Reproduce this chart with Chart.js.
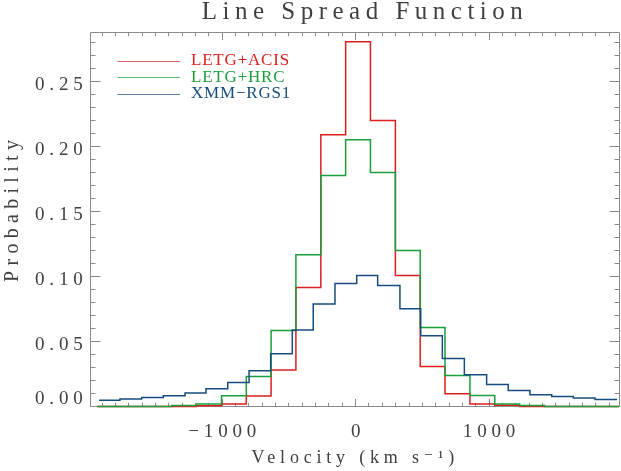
<!DOCTYPE html>
<html>
<head>
<meta charset="utf-8">
<script src="https://cdn.jsdelivr.net/npm/chart.js@4.4.1/dist/chart.umd.min.js"></script>
<style>
  html, body { margin: 0; padding: 0; background: #ffffff; }
  canvas { display: block; }
</style>
</head>
<body>
<canvas id="c" width="621" height="471"></canvas>
<script>
// ---------------- data ----------------
const chartTitle = 'Line Spread Function';
const xTitle = 'Velocity (km s\u207B\u00B9)';
const yTitle = 'Probability';
const seriesNames = ['LETG+ACIS', 'LETG+HRC', 'XMM\u2212RGS1'];
const seriesColors = ['#dc1e1e', '#1a9e3c', '#164c7e'];

// Chandra LETG bins (km/s edges) shared by ACIS and HRC
const letgBinEdges = [-1938, -1752, -1565, -1379, -1193, -1006, -820, -634, -448, -261, -75,
                      111, 298, 484, 670, 857, 1043, 1229, 1416, 1602, 1788, 1975];
const letgAcisValues = [0, 0, 0, 0, 0.0006, 0.002, 0.008, 0.028, 0.0915, 0.209, 0.2805,
                        0.220, 0.1008, 0.0308, 0.0098, 0.002, 0.001, 0, 0, 0, 0];
const letgHrcValues = [0, 0, 0, 0.0008, 0.002, 0.0082, 0.023, 0.0585, 0.1167, 0.1777, 0.2052,
                       0.180, 0.120, 0.0608, 0.0238, 0.0085, 0.002, 0.0008, 0, 0, 0];

// XMM RGS1 bins (km/s edges)
const rgsBinEdges = [-1924, -1767, -1604, -1442, -1279, -1122, -959, -799, -637, -475, -318, -155,
                     8, 165, 332, 488, 650, 815, 982, 1144, 1307, 1470, 1632, 1795, 1960];
const rgsValues = [0.0049, 0.0057, 0.0069, 0.0082, 0.0103, 0.0136, 0.0185, 0.0275, 0.0405, 0.0588,
                   0.0788, 0.0946, 0.1008, 0.0931, 0.0752, 0.0544, 0.0369, 0.0244, 0.0169, 0.0123,
                   0.0090, 0.0077, 0.0065, 0.0054];

const xTickValues = [-1000, 0, 1000];
const yTickValues = [0, 0.05, 0.10, 0.15, 0.20, 0.25];
const xRange = [-1988, 1982];
const yRange = [0, 0.2877];

// ---------------- helpers ----------------
function histogramPoints(edges, values) {
  return edges.map((e, i) => ({ x: e, y: values[Math.min(i, values.length - 1)] }));
}

const SERIF = '"Liberation Serif", "DejaVu Serif", serif';
const TEXT = '#404040';
const FRAME = '#8a8a8a';
const AXIS_SPACING = 4.8;

const decor = {
  id: 'decor',
  beforeDraw(chart) {
    chart.ctx.letterSpacing = AXIS_SPACING + 'px';
  },
  beforeDatasetsDraw(chart) {
    const ctx = chart.ctx;
    const xs = chart.scales.x, ys = chart.scales.y;
    const { left, right, top, bottom } = chart.chartArea;
    const L = Math.floor(left) + 0.5, R = Math.floor(right) - 0.5;
    const T = Math.floor(top) + 0.5, B = Math.floor(bottom) + 0.5;
    ctx.save();
    ctx.strokeStyle = FRAME;
    ctx.lineWidth = 1;
    ctx.beginPath();
    ctx.rect(L, T, R - L, B - T);
    for (let k = -19; k <= 19; k++) {
      const v = k * 100;
      if (v < xs.min || v > xs.max) continue;
      const px = Math.floor(xs.getPixelForValue(v)) + 0.5;
      const len = (k % 10 === 0) ? 7.5 : 3.7;
      ctx.moveTo(px, B); ctx.lineTo(px, B - len);
      ctx.moveTo(px, T); ctx.lineTo(px, T + len);
    }
    for (let k = 0; k <= 28; k++) {
      const v = k / 100;
      if (v > ys.max) continue;
      const py = Math.floor(ys.getPixelForValue(v)) + 0.5;
      const len = (k % 5 === 0) ? 10 : 5;
      ctx.moveTo(L, py); ctx.lineTo(L + len, py);
      ctx.moveTo(R, py); ctx.lineTo(R - len, py);
    }
    ctx.stroke();
    ctx.restore();
  },
  afterDraw(chart) {
    const ctx = chart.ctx;
    const { left, right, top, bottom } = chart.chartArea;
    ctx.save();
    // main title
    ctx.font = '25px ' + SERIF;
    ctx.letterSpacing = '5.5px';
    ctx.fillStyle = TEXT;
    ctx.textAlign = 'left';
    ctx.textBaseline = 'alphabetic';
    let w = ctx.measureText(chartTitle).width - 5.5;
    ctx.fillText(chartTitle, (left + right) / 2 + 7 - w / 2, 18.5);

    // y axis title
    ctx.save();
    ctx.font = '20px ' + SERIF;
    ctx.letterSpacing = '5.3px';
    ctx.translate(12.5, (top + bottom) / 2 - 8.5);
    ctx.rotate(-Math.PI / 2);
    ctx.textBaseline = 'middle';
    w = ctx.measureText(yTitle).width - 5.3;
    ctx.fillText(yTitle, -w / 2, 0);
    ctx.restore();

    // legend
    ctx.font = '17px ' + SERIF;
    ctx.letterSpacing = '0.8px';
    ctx.textBaseline = 'alphabetic';
    chart.data.datasets.forEach((ds, i) => {
      const y = top + 28.5 + i * 16.5;
      const yy = Math.floor(y) + 0.5;
      ctx.strokeStyle = ds.borderColor;
      ctx.globalAlpha = 0.7;
      ctx.lineWidth = 1;
      ctx.beginPath();
      ctx.moveTo(left + 27, yy);
      ctx.lineTo(left + 89.5, yy);
      ctx.stroke();
      ctx.globalAlpha = 1;
      ctx.fillStyle = ds.borderColor;
      ctx.fillText(ds.label, left + 100.5, y + 4);
    });
    ctx.restore();
  }
};

const datasets = [
  { label: seriesNames[0], data: histogramPoints(letgBinEdges, letgAcisValues), borderColor: seriesColors[0], order: 2 },
  { label: seriesNames[1], data: histogramPoints(letgBinEdges, letgHrcValues), borderColor: seriesColors[1], order: 1 },
  { label: seriesNames[2], data: histogramPoints(rgsBinEdges, rgsValues), borderColor: seriesColors[2], order: 0 }
].map(d => Object.assign(d, {
  borderWidth: 1.5,
  stepped: true,
  fill: false,
  pointRadius: 0,
  pointHoverRadius: 0,
  tension: 0,
  clip: { left: 0, right: 0, top: 0, bottom: 2 }
}));

new Chart(document.getElementById('c'), {
  type: 'line',
  data: { datasets },
  options: {
    responsive: false,
    devicePixelRatio: 1,
    animation: false,
    events: [],
    layout: { padding: { left: 0, right: 1, top: 32.5, bottom: 0 } },
    plugins: {
      legend: { display: false },
      title: { display: false },
      tooltip: { enabled: false }
    },
    scales: {
      x: {
        type: 'linear',
        min: xRange[0], max: xRange[1],
        grid: { display: false, drawTicks: false, tickLength: 0 },
        border: { display: false },
        afterFit(scale) { scale.height = 64.5; },
        afterBuildTicks(scale) { scale.ticks = xTickValues.map(v => ({ value: v })); },
        ticks: {
          autoSkip: false, maxRotation: 0, minRotation: 0,
          padding: 14, labelOffset: AXIS_SPACING / 2,
          color: TEXT,
          font: { family: SERIF, size: 19 },
          callback: v => (v < 0 ? '\u2212' : '') + Math.abs(v)
        },
        title: {
          display: true, text: xTitle, color: TEXT,
          font: { family: SERIF, size: 18 },
          padding: { top: 0, bottom: 2 }
        }
      },
      y: {
        type: 'linear',
        min: yRange[0], max: yRange[1],
        grid: { display: false, drawTicks: false, tickLength: 0 },
        border: { display: false },
        afterFit(scale) { scale.width = 90.5; },
        afterBuildTicks(scale) { scale.ticks = yTickValues.map(v => ({ value: v })); },
        ticks: {
          autoSkip: false,
          padding: 3, labelOffset: 4,
          color: TEXT,
          font: { family: SERIF, size: 19 },
          callback: v => v === 0 ? ['0.00', ''] : Number(v).toFixed(2)
        }
      }
    }
  },
  plugins: [decor]
});
</script>
</body>
</html>
